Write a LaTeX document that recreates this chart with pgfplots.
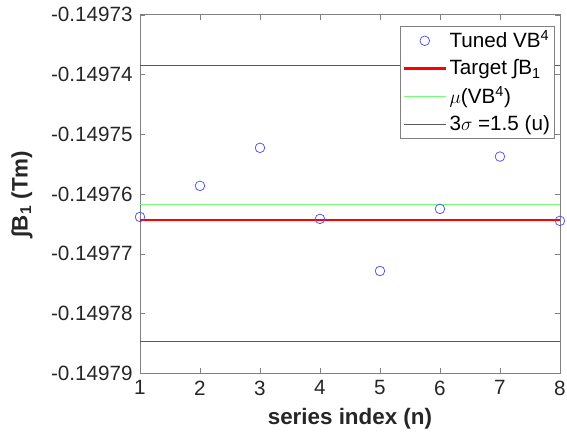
\documentclass[border=0pt]{standalone}
\usepackage{pgfplots}
\pgfplotsset{compat=1.18}
\usepackage{fontspec}
\setmainfont{Liberation Sans}
\definecolor{tickgray}{HTML}{262626}
\definecolor{boxgray}{HTML}{808080}
\definecolor{mblue}{rgb}{0.3,0.3,1}
\definecolor{lgreen}{rgb}{0.45,1,0.45}
% y values stored as deviation from -0.14976 Tm, in units of 1e-6 Tm
\begin{document}
\fontsize{16}{19}\selectfont
\begin{tikzpicture}
\begin{axis}[
  scale only axis,
  width=315pt, height=269pt,
  xmin=1, xmax=8, ymin=-30, ymax=30,
  xtick={1,...,8},
  ytick={-30,-20,-10,0,10,20,30},
  yticklabels={-0.14979,-0.14978,-0.14977,-0.14976,-0.14975,-0.14974,-0.14973},
  tick align=inside,
  major tick length=4pt,
  axis line style={boxgray},
  tick style={boxgray},
  ticklabel style={text=tickgray, font=\fontsize{15.5}{18}\selectfont},
  /pgf/number format/assume math mode=true,
  xlabel={\bfseries series index (n)},
  ylabel={\bfseries ∫B\textsubscript{1} (Tm)},
  label style={text=tickgray, font=\fontsize{16.8}{19}\selectfont},
  xlabel style={yshift=1pt},
  ylabel style={yshift=3pt},
  legend image code/.code={\draw[mark repeat=2,mark phase=2,#1] plot coordinates {(0cm,0cm) (0.55cm,0cm) (1.1cm,0cm)};},
  legend style={at={(0.988,0.969)}, anchor=north east, draw=boxgray,
    font=\fontsize{15.5}{18}\selectfont, text=black, inner sep=1.5pt,
    row sep=2.5pt, cells={anchor=west}},
  legend cell align=left,
  clip=false,
]
\addplot[only marks, mark=o, mark size=3.6pt, mblue, mark options={line width=0.55pt}]
  coordinates {(1,-3.84) (2,1.36) (3,7.72) (4,-4.17) (5,-12.88) (6,-2.50) (7,6.26) (8,-4.50)};
\addlegendentry{Tuned VB\textsuperscript{4}}
\addplot[red, line width=1.9pt] coordinates {(1,-4.34) (8,-4.34)};
\addlegendentry{Target ∫B\textsubscript{1}}
\addplot[lgreen, line width=1pt] coordinates {(1,-1.71) (8,-1.71)};
\addlegendentry{$\mu$(VB\textsuperscript{4})}
\addplot[black!65, line width=0.6pt] coordinates {(1,21.46) (8,21.46)};
\addlegendentry{3$\sigma$ =1.5 (u)}
\addplot[black!65, line width=0.6pt, forget plot] coordinates {(1,-24.61) (8,-24.61)};
\end{axis}
\pgfresetboundingbox
\path ([xshift=-105pt,yshift=-47pt]current axis.south west) rectangle ([xshift=5.3pt,yshift=11pt]current axis.north east);
\end{tikzpicture}
\end{document}
